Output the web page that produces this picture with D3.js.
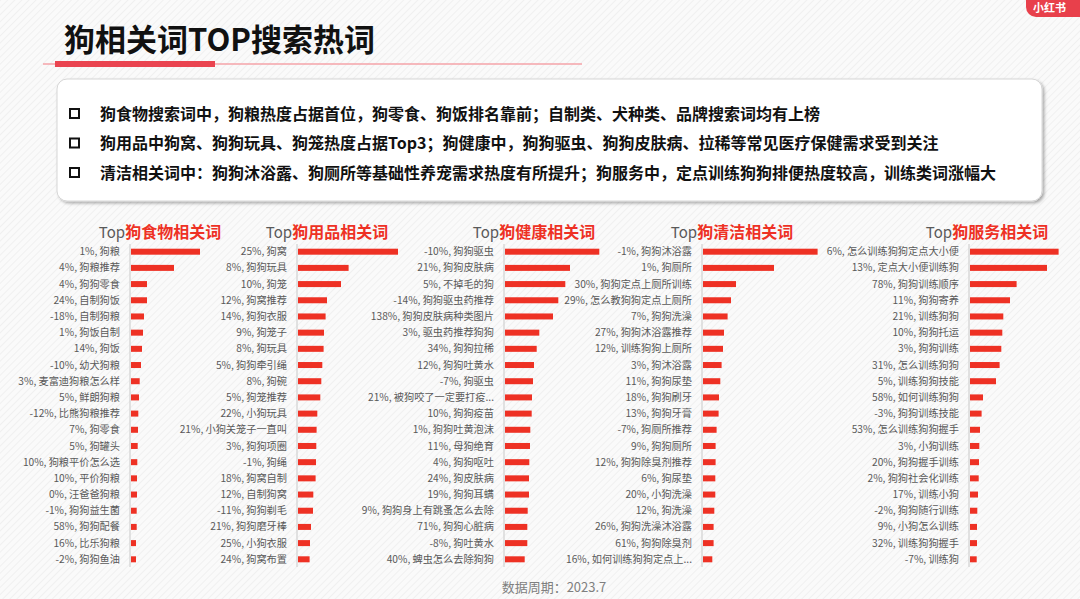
<!DOCTYPE html>
<html>
<head>
<meta charset="utf-8">
<script src="https://cdn.jsdelivr.net/npm/d3@7"></script>
<style>
  html, body { margin: 0; padding: 0; background: #fafafa; }
  svg { display: block; font-family: "Noto Sans CJK SC", "Noto Sans", sans-serif; }
</style>
</head>
<body>
<svg width="1080" height="599"></svg>
<script>
const pageTitle = "狗相关词TOP搜索热词";
const bullets = [
  "狗食物搜索词中，狗粮热度占据首位，狗零食、狗饭排名靠前；自制类、犬种类、品牌搜索词均有上榜",
  "狗用品中狗窝、狗狗玩具、狗笼热度占据Top3；狗健康中，狗狗驱虫、狗狗皮肤病、拉稀等常见医疗保健需求受到关注",
  "清洁相关词中：狗狗沐浴露、狗厕所等基础性养宠需求热度有所提升；狗服务中，定点训练狗狗排便热度较高，训练类词涨幅大"
];
const footer = "数据周期：2023.7";

const panelTitles = ["狗食物相关词", "狗用品相关词", "狗健康相关词", "狗清洁相关词", "狗服务相关词"];

const foodTerms = ["1%, 狗粮", "4%, 狗粮推荐", "4%, 狗狗零食", "24%, 自制狗饭", "-18%, 自制狗粮", "1%, 狗饭自制", "14%, 狗饭", "-10%, 幼犬狗粮", "3%, 麦富迪狗粮怎么样", "5%, 鲜朗狗粮", "-12%, 比熊狗粮推荐", "7%, 狗零食", "5%, 狗罐头", "10%, 狗粮平价怎么选", "10%, 平价狗粮", "0%, 汪爸爸狗粮", "-1%, 狗狗益生菌", "58%, 狗狗配餐", "16%, 比乐狗粮", "-2%, 狗狗鱼油"];
const foodHeat = [69, 43, 16, 16, 13, 12, 11, 10, 8.7, 8, 7.3, 7, 6.7, 6.3, 6, 6, 5.7, 5.7, 5, 5];

const gearTerms = ["25%, 狗窝", "8%, 狗狗玩具", "10%, 狗笼", "12%, 狗窝推荐", "14%, 狗狗衣服", "9%, 狗笼子", "8%, 狗玩具", "5%, 狗狗牵引绳", "8%, 狗碗", "5%, 狗笼推荐", "22%, 小狗玩具", "21%, 小狗关笼子一直叫", "3%, 狗狗项圈", "-1%, 狗绳", "18%, 狗窝自制", "12%, 自制狗窝", "-11%, 狗狗剃毛", "21%, 狗狗磨牙棒", "25%, 小狗衣服", "24%, 狗窝布置"];
const gearHeat = [100, 50.6, 43, 29, 27.6, 26, 25.6, 24.3, 23.3, 22.3, 19.3, 18.6, 18.3, 18, 17.6, 15.3, 15, 13, 12, 11.6];

const healthTerms = ["-10%, 狗狗驱虫", "21%, 狗狗皮肤病", "5%, 不掉毛的狗", "-14%, 狗狗驱虫药推荐", "138%, 狗狗皮肤病种类图片", "3%, 驱虫药推荐狗狗", "34%, 狗狗拉稀", "12%, 狗狗吐黄水", "-7%, 狗驱虫", "21%, 被狗咬了一定要打疫...", "10%, 狗狗疫苗", "1%, 狗狗吐黄泡沫", "11%, 母狗绝育", "4%, 狗狗呕吐", "24%, 狗皮肤病", "19%, 狗狗耳螨", "9%, 狗狗身上有跳蚤怎么去除", "71%, 狗狗心脏病", "-8%, 狗吐黄水", "40%, 蜱虫怎么去除狗狗"];
const healthHeat = [94.3, 65, 60.3, 53.3, 48, 34.3, 31.7, 29, 28, 27, 26.7, 25.3, 25, 24.3, 24, 24, 22.7, 22.3, 22.3, 19.7];

const cleanTerms = ["-1%, 狗狗沐浴露", "1%, 狗厕所", "30%, 狗狗定点上厕所训练", "29%, 怎么教狗狗定点上厕所", "7%, 狗狗洗澡", "27%, 狗狗沐浴露推荐", "12%, 训练狗狗上厕所", "3%, 狗沐浴露", "11%, 狗狗尿垫", "18%, 狗狗刷牙", "13%, 狗狗牙膏", "-7%, 狗厕所推荐", "9%, 狗狗厕所", "12%, 狗狗除臭剂推荐", "6%, 狗尿垫", "20%, 小狗洗澡", "12%, 狗洗澡", "26%, 狗狗洗澡沐浴露", "61%, 狗狗除臭剂", "16%, 如何训练狗狗定点上..."];
const cleanHeat = [114.6, 71, 33, 28, 24.6, 21, 20, 18.6, 17.3, 16, 15.6, 13.6, 12.6, 12.6, 12.3, 12.3, 11.3, 10.6, 10.6, 9.3];

const serviceTerms = ["6%, 怎么训练狗狗定点大小便", "13%, 定点大小便训练狗", "78%, 狗狗训练顺序", "11%, 狗狗寄养", "21%, 训练狗狗", "10%, 狗狗托运", "3%, 狗狗训练", "31%, 怎么训练狗狗", "5%, 训练狗狗技能", "58%, 如何训练狗狗", "-3%, 狗狗训练技能", "53%, 怎么训练狗狗握手", "3%, 小狗训练", "20%, 狗狗握手训练", "2%, 狗狗社会化训练", "17%, 训练小狗", "-2%, 狗狗随行训练", "9%, 小狗怎么训练", "32%, 训练狗狗握手", "-7%, 训练狗"];
const serviceHeat = [88.6, 77, 46.6, 40, 33.3, 32.3, 31.3, 29.6, 26, 13, 11.6, 10, 9.3, 9, 8.7, 8, 7.3, 7, 7, 6.7];

const panels = [
  { title: panelTitles[0], terms: foodTerms, heat: foodHeat },
  { title: panelTitles[1], terms: gearTerms, heat: gearHeat },
  { title: panelTitles[2], terms: healthTerms, heat: healthHeat },
  { title: panelTitles[3], terms: cleanTerms, heat: cleanHeat },
  { title: panelTitles[4], terms: serviceTerms, heat: serviceHeat }
];

// layout
const axisX = [130, 297, 504, 702, 969];
const titleX = [160, 327, 534, 732, 987];
const red = "#ee3124";
const gray = "#595959";

const svg = d3.select("svg");

// faint diagonal texture on the background
const defs = svg.append("defs");
const pat = defs.append("pattern")
  .attr("id", "hatch")
  .attr("width", 5)
  .attr("height", 5)
  .attr("patternUnits", "userSpaceOnUse")
  .attr("patternTransform", "rotate(45)");
pat.append("rect").attr("width", 5).attr("height", 5).attr("fill", "#fafafa");
pat.append("line").attr("x1", 0).attr("y1", 0).attr("x2", 0).attr("y2", 5)
  .attr("stroke", "#f0f0f0").attr("stroke-width", 2);

const shadow = defs.append("filter").attr("id", "shadow")
  .attr("x", "-5%").attr("y", "-10%").attr("width", "110%").attr("height", "130%");
shadow.append("feDropShadow")
  .attr("dx", 2).attr("dy", 2).attr("stdDeviation", 1.5)
  .attr("flood-color", "#000").attr("flood-opacity", 0.3);

svg.append("rect").attr("width", 1080).attr("height", 599).attr("fill", "url(#hatch)");

// badge in the top right corner
svg.append("rect")
  .attr("x", 1026).attr("y", -10).attr("width", 70).attr("height", 27).attr("rx", 10)
  .attr("fill", "#e8404b");
svg.append("text")
  .attr("x", 1033).attr("y", 12)
  .attr("fill", "#fff").attr("font-size", 11).attr("font-weight", "bold")
  .text("小红书");

// heading
svg.append("text")
  .attr("x", 64).attr("y", 51)
  .attr("font-size", 31).attr("font-weight", "bold").attr("fill", "#111")
  .text(pageTitle);
svg.append("line")
  .attr("x1", 43).attr("x2", 582).attr("y1", 64).attr("y2", 64)
  .attr("stroke", "#f4a3a8").attr("stroke-width", 1.5);
svg.append("rect")
  .attr("x", 55).attr("y", 61).attr("width", 160).attr("height", 6)
  .attr("fill", "#ea4450");

// summary box
svg.append("rect")
  .attr("x", 57).attr("y", 79).attr("width", 985).attr("height", 122).attr("rx", 10)
  .attr("fill", "#fff").attr("stroke", "#d6d6d6")
  .attr("filter", "url(#shadow)");

const lineY = d3.scalePoint().domain(d3.range(bullets.length)).range([114, 173]);

const bulletRow = svg.append("g")
  .selectAll("g")
  .data(bullets)
  .enter()
  .append("g")
  .attr("transform", (d, i) => `translate(0,${lineY(i)})`);

bulletRow.append("rect")
  .attr("x", 70).attr("y", -5).attr("width", 9).attr("height", 9)
  .attr("fill", "none").attr("stroke", "#111").attr("stroke-width", 2);

bulletRow.append("text")
  .attr("x", 100).attr("dy", "0.35em")
  .attr("font-size", 16).attr("font-weight", "bold").attr("fill", "#111")
  .text((d) => d);

// the five bar panels
const x = d3.scaleLinear().domain([0, 120]).range([0, 120]);
const y = d3.scalePoint().domain(d3.range(20)).range([251.7, 559.3]);
const barH = 6;

panels.forEach((p, k) => {
  const g = svg.append("g").attr("transform", `translate(${axisX[k]},0)`);

  const title = g.append("text")
    .attr("x", titleX[k] - axisX[k]).attr("y", 238)
    .attr("text-anchor", "middle");
  title.append("tspan").attr("font-size", 15).attr("fill", gray).text("Top");
  title.append("tspan").attr("font-size", 16).attr("font-weight", "bold").attr("fill", red).text(p.title);

  g.append("line")
    .attr("x1", 0).attr("x2", 0).attr("y1", 244).attr("y2", 567)
    .attr("stroke", "#d9d9d9").attr("stroke-width", 1.5);

  g.selectAll("rect.bar")
    .data(p.heat)
    .enter()
    .append("rect")
    .attr("class", "bar")
    .attr("x", 1)
    .attr("y", (d, i) => y(i) - barH / 2)
    .attr("width", (d) => x(d))
    .attr("height", barH)
    .attr("fill", red);

  g.selectAll("text.label")
    .data(p.terms)
    .enter()
    .append("text")
    .attr("class", "label")
    .attr("x", -10)
    .attr("y", (d, i) => y(i))
    .attr("dy", "0.35em")
    .attr("text-anchor", "end")
    .attr("font-size", 10.2)
    .attr("fill", gray)
    .text((d) => d);
});

// footer
svg.append("text")
  .attr("x", 554).attr("y", 587).attr("dy", "0.35em")
  .attr("text-anchor", "middle")
  .attr("font-size", 13).attr("fill", "#7f7f7f")
  .text(footer);
</script>
</body>
</html>
